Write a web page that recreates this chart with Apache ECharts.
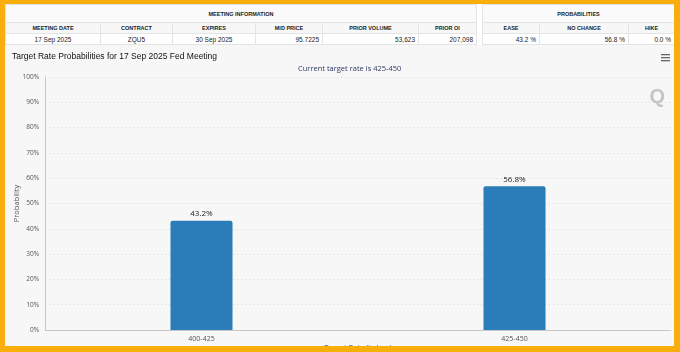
<!DOCTYPE html>
<html>
<head>
<meta charset="utf-8">
<script src="https://cdn.jsdelivr.net/npm/echarts@6/dist/echarts.min.js"></script>
<style>
  html, body { margin: 0; padding: 0; }
  body { width: 680px; height: 352px; position: relative; overflow: hidden; background: #fff; font-family: "Liberation Sans", Arial, sans-serif; }
  .frame { position: absolute; left: 0; top: 0; width: 669px; height: 342px; border-style: solid; border-color: #f9ae0b; border-width: 4px 6px 6px 5px; z-index: 10; pointer-events: none; }
  .tbl { position: absolute; top: 4px; border-collapse: collapse; font-size: 6.5px; color: #222; table-layout: fixed; }
  .tbl td, .tbl th { border: 1px solid #e4e4e4; padding: 0 3px; height: 10px; overflow: hidden; white-space: nowrap; }
  .tbl th { font-weight: bold; text-align: center; font-size: 5.5px; }
  .tbl tr.top th { height: 17px; background: #fafafa; }
  .tbl tr.head th { background: #f7f7f7; }
  .tbl td.c { text-align: center; }
  .tbl td.r { text-align: right; }
  #chart { position: absolute; left: 5px; top: 45px; width: 669px; height: 307px; }
</style>
</head>
<body>
<div class="frame"></div>
<table class="tbl" style="left:5px; width:472px;">
  <colgroup><col style="width:95px"><col style="width:72px"><col style="width:83px"><col style="width:67px"><col style="width:96px"><col></colgroup>
  <tr class="top"><th colspan="6">MEETING INFORMATION</th></tr>
  <tr class="head"><th>MEETING DATE</th><th>CONTRACT</th><th>EXPIRES</th><th>MID PRICE</th><th>PRIOR VOLUME</th><th>PRIOR OI</th></tr>
  <tr><td class="c">17 Sep 2025</td><td class="c">ZQU5</td><td class="c">30 Sep 2025</td><td class="r">95.7225</td><td class="r">53,623</td><td class="r">207,098</td></tr>
</table>
<table class="tbl" style="left:482px; width:193px;">
  <colgroup><col style="width:57px"><col style="width:89px"><col></colgroup>
  <tr class="top"><th colspan="3">PROBABILITIES</th></tr>
  <tr class="head"><th>EASE</th><th>NO CHANGE</th><th>HIKE</th></tr>
  <tr><td class="r">43.2 %</td><td class="r">56.8 %</td><td class="r">0.0 %</td></tr>
</table>
<div id="chart"></div>
<script>
  // target rate buckets (bps) and their probabilities (%)
  var categories = ["400-425", "425-450"];
  var probabilities = [43.2, 56.8];
  var yTicks = [0, 10, 20, 30, 40, 50, 60, 70, 80, 90, 100];

  var myChart = echarts.init(document.getElementById("chart"));
  var option = {
    backgroundColor: "#f7f7f7",
    animation: false,
    title: [
      {
        text: "Target Rate Probabilities for 17 Sep 2025 Fed Meeting",
        left: 2,
        top: 2,
        textStyle: { fontSize: 8.5, fontWeight: "normal", color: "#111", fontFamily: "Liberation Sans" }
      },
      {
        text: "Current target rate is 425-450",
        left: 288,
        top: 15,
        textStyle: { fontSize: 7.5, fontWeight: "normal", color: "#2e3a66", fontFamily: "Open Sans" }
      }
    ],
    graphic: [
      {
        type: "group",
        right: 4,
        top: 9,
        children: [
          { type: "rect", shape: { x: 0, y: 0, width: 9, height: 1.3 }, style: { fill: "#666" } },
          { type: "rect", shape: { x: 0, y: 3, width: 9, height: 1.3 }, style: { fill: "#666" } },
          { type: "rect", shape: { x: 0, y: 6, width: 9, height: 1.3 }, style: { fill: "#666" } }
        ]
      },
      {
        type: "text",
        right: 9,
        top: 42,
        style: { text: "Q", fontSize: 20, fontWeight: "bold", fill: "#c4c4c4", fontFamily: "Liberation Sans" }
      }
    ],
    grid: { left: 40, right: 3, top: 32, bottom: 22, outerBoundsMode: "none" },
    xAxis: {
      type: "category",
      data: categories,
      name: "Target Rate (in bps)",
      nameLocation: "middle",
      nameGap: 14,
      nameMoveOverlap: false,
      nameTextStyle: { fontSize: 7.5, color: "#444", fontFamily: "Open Sans" },
      axisLine: { lineStyle: { color: "#c8c8c8", width: 1 } },
      axisTick: { show: false },
      axisLabel: { fontSize: 7, color: "#555", margin: 5, fontFamily: "Open Sans" }
    },
    yAxis: {
      type: "value",
      min: yTicks[0],
      max: yTicks[yTicks.length - 1],
      interval: 10,
      name: "Probability",
      nameLocation: "middle",
      nameGap: 24,
      nameMoveOverlap: false,
      nameTextStyle: { fontSize: 7.5, color: "#555", fontFamily: "Open Sans" },
      axisLine: { show: true, lineStyle: { color: "#c8c8c8", width: 1 } },
      axisTick: { show: false },
      axisLabel: { fontSize: 6.5, color: "#555", margin: 6, formatter: "{value}%", fontFamily: "Open Sans" },
      splitLine: { lineStyle: { color: "#d8d8d8", type: [1, 3] } }
    },
    series: [
      {
        type: "bar",
        data: probabilities,
        barWidth: 62,
        itemStyle: { color: "#2a7db8", borderRadius: [2, 2, 0, 0] },
        label: {
          show: true,
          position: "top",
          distance: 3,
          formatter: "{c}%",
          fontSize: 8,
          color: "#222",
          fontFamily: "Open Sans"
        }
      }
    ]
  };
  myChart.setOption(option);
</script>
</body>
</html>
